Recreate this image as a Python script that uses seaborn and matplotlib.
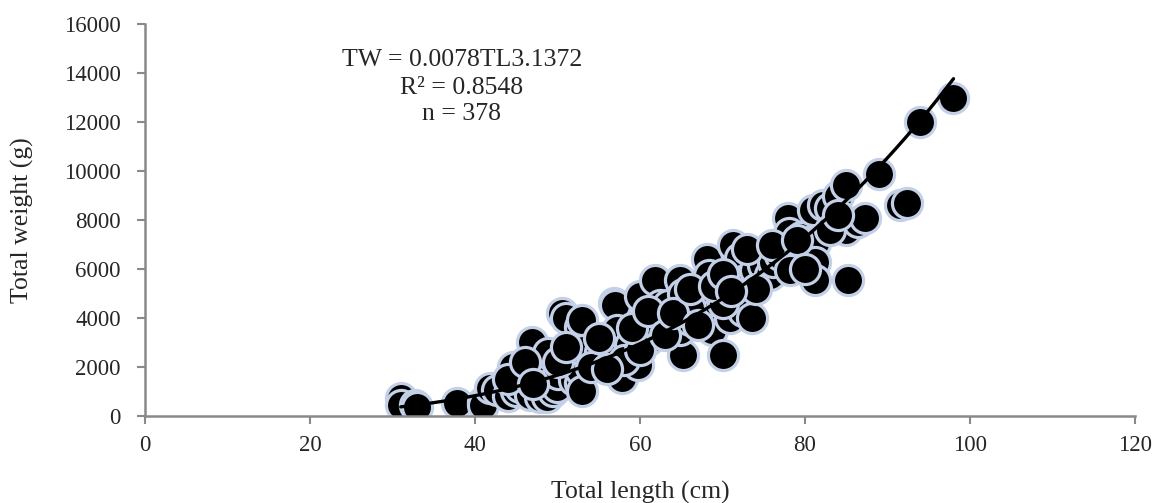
import numpy as np
import pandas as pd
import matplotlib
matplotlib.use("Agg")
import matplotlib.pyplot as plt
import seaborn as sns

# Total length (cm) and total weight (g)
length_cm = [31, 31, 32.7, 33, 37.8, 41, 41, 41.8, 42.7, 44.6, 44, 45, 45.5, 46, 46.7, 46.9,
             47.9, 48, 48.7, 48.8, 49.5, 49.9, 50, 50.5, 51, 52, 52.7, 52.7, 52.7, 53, 53.1, 53,
             55.2, 56.7, 56.8, 57, 57.2, 57.8, 58.8, 59.8, 60, 60.6, 61, 61.8, 62.4, 63.4, 64.8,
             65.2, 65.2, 64.8, 66, 67.3, 67.9, 68.1, 68.4, 68.8, 68.7, 70, 70.9, 71.3, 72.1, 72.7,
             72.1, 72.5, 73.6, 73.9, 74.9, 75.8, 76.1, 77, 78.2, 77.9, 78, 78.2, 79.5, 80.5, 81,
             81.2, 81.2, 81.2, 82.2, 83, 84, 85, 85, 85.2, 86.4, 87.3, 89, 91.5, 92.4, 94, 97.9,
             62, 66, 70, 74, 58, 54, 60,
             44, 46, 47, 50, 51, 55, 56, 59, 61, 63, 64, 66, 67, 69, 70, 71, 73, 76, 79, 80, 83, 84]
weight_g = [735, 450, 450, 370, 530, 570, 450, 1140, 1060, 2000, 800, 1000, 1180, 1600, 850, 3020,
            780, 1900, 780, 2570, 1020, 1180, 1700, 4200, 4000, 1470, 3630, 1350, 1880, 3900, 2690, 1000,
            2610, 2490, 4600, 4530, 3500, 1550, 2900, 2080, 4900, 3900, 3100, 5550, 4530, 4530, 5550,
            5000, 2490, 3500, 3900, 4300, 4800, 6400, 5750, 4120, 3500, 2490, 4000, 7000, 6450, 5550,
            4900, 4300, 4000, 5950, 6160, 5750, 6300, 6570, 7000, 8080, 7470, 5960, 7300, 7100, 8400,
            7060, 6290, 5550, 8600, 8500, 8980, 9430, 7590, 5550, 7920, 8080, 9900, 8600, 8700, 12000, 13000,
            3800, 4400, 4600, 5200, 2300, 2000, 2700,
            1500, 2200, 1300, 2200, 2800, 3200, 1900, 3600, 4300, 3300, 4200, 5200, 3700, 5300, 5800,
            5100, 6800, 7000, 7200, 6000, 7600, 8200]

# Power trendline TW = a * TL^b
coef_a = 0.0078
coef_b = 3.1372
fit_range = [31, 98]
annotation = ["TW = 0.0078TL3.1372", "R² = 0.8548", "n = 378"]

sns.set_style("white")
plt.rcParams['font.family'] = ['Liberation Serif', 'DejaVu Serif']

fig = plt.figure(figsize=(11.66, 5.03), dpi=100)
ax = fig.add_axes([0.1244, 0.173, 0.8490, 0.779])

df = pd.DataFrame({"TL": length_cm, "TW": weight_g})
sns.scatterplot(data=df, x="TL", y="TW", ax=ax, s=470, color="black",
                edgecolor="#c3d0e8", linewidth=2.3, zorder=2, legend=False)

xs = np.linspace(fit_range[0], fit_range[1], 200)
ax.plot(xs, coef_a * xs ** coef_b, color="black", lw=2.4, zorder=3)

ax.set_xlim(0, 120)
ax.set_ylim(0, 16000)
ax.set_xticks(range(0, 121, 20))
ax.set_yticks(range(0, 16001, 2000))
ax.set_xlabel("Total length (cm)", fontsize=18.5)
ax.set_ylabel("Total weight (g)", fontsize=18.5)
ax.tick_params(axis="both", labelsize=16.5, direction="out", length=5.5, width=1.5,
               color="#898989")
ax.tick_params(axis="x", bottom=True, pad=8)
ax.tick_params(axis="y", left=True, pad=12)
for side in ["top", "right"]:
    ax.spines[side].set_visible(False)
for side in ["left", "bottom"]:
    ax.spines[side].set_color("#898989")
    ax.spines[side].set_linewidth(1.8)
ax.xaxis.set_label_coords(0.5, -0.165)
ax.yaxis.set_label_coords(-0.112, 0.5)

ys = [0.908, 0.837, 0.770]
for t, yy in zip(annotation, ys):
    ax.text(0.32, yy, t, transform=ax.transAxes, ha="center", va="center", fontsize=18.5)

fig.savefig("out.png", dpi=100)
